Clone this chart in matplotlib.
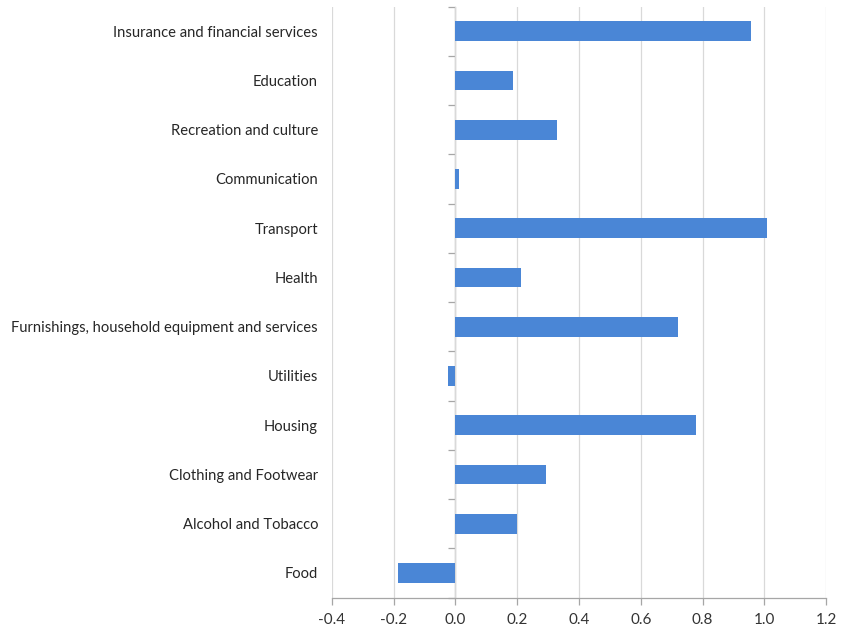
import matplotlib.pyplot as plt
import numpy as np

categories = ["Food", "Alcohol and Tobacco", "Clothing and Footwear", "Housing",
              "Utilities", "Furnishings, household equipment and services",
              "Health", "Transport", "Communication", "Recreation and culture",
              "Education", "Insurance and financial services"]
values = [-0.185, 0.20, 0.293, 0.78, -0.025, 0.72, 0.213, 1.01, 0.01, 0.33,
          0.186, 0.958]
xticks = [-0.4, -0.2, 0.0, 0.2, 0.4, 0.6, 0.8, 1.0, 1.2]

plt.rcParams['font.family'] = ['Lato', 'DejaVu Sans']

fig = plt.figure(figsize=(8.46, 6.34), dpi=100)
ax = fig.add_axes([0.3924, 0.0574, 0.584, 0.9323])

y = np.arange(len(categories))
ax.barh(y, values, height=0.4, color='#4a86d6', zorder=3)

ax.set_xlim(-0.4, 1.2)
ax.set_ylim(-0.5, len(categories) - 0.5)
ax.set_xticks(xticks)
ax.set_xticklabels(["%.1f" % t for t in xticks], fontsize=11, color='#333333')
ax.grid(axis='x', color='#d9d9d9', linewidth=0.9, zorder=0)

ax.set_yticks(y)
ax.set_yticklabels(categories, fontsize=10.6, color='#262626')
ax.tick_params(axis='y', length=0, pad=10)
ax.tick_params(axis='x', length=5, color='#a6a6a6', width=0.9, pad=6)

for s in ['left', 'right', 'top']:
    ax.spines[s].set_visible(False)
ax.spines['bottom'].set_color('#a6a6a6')
ax.spines['bottom'].set_linewidth(0.9)

# vertical axis line at zero with category boundary ticks
sec = ax.secondary_yaxis(0.25)
sec.set_yticks(np.arange(-0.5, len(categories), 1.0))
sec.set_yticklabels([])
sec.tick_params(axis='y', length=5, color='#a6a6a6', width=0.9)
sec.spines['left'].set_color('#a6a6a6')
sec.spines['left'].set_linewidth(0.9)

plt.savefig("out.png", dpi=100)
